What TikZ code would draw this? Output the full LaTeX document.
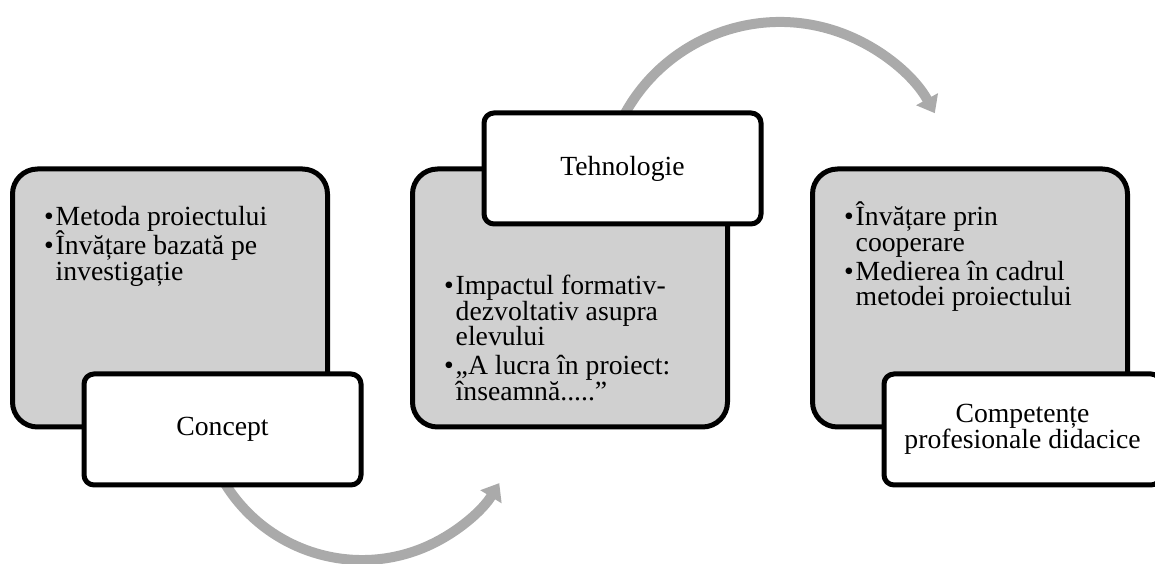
\documentclass[tikz,border=0pt]{standalone}
\usepackage{fontspec}
\setmainfont{Liberation Serif}
\usetikzlibrary{arrows.meta,calc}
\definecolor{panelgray}{RGB}{208,208,208}
\definecolor{arrowgray}{RGB}{170,170,170}
\newcommand{\itembullet}{\makebox[11.5pt][l]{•}}
\newcommand{\itemcont}{\hspace*{11.5pt}}
\tikzset{
  bigfont/.style={font=\fontsize{27.7pt}{25.5pt}\selectfont},
  panel/.style={draw=black, line width=5pt, fill=panelgray, rounded corners=25pt,
    minimum width=315pt, minimum height=258pt, inner sep=0pt},
  tab/.style={draw=black, line width=5pt, fill=white, rounded corners=10pt,
    minimum width=277pt, minimum height=111pt, align=center, bigfont},
  flow/.style={draw=arrowgray, line width=10pt, -{Triangle[length=16pt,width=24pt]}},
  bullets/.style={inner sep=0pt, anchor=base west, bigfont}
}
\begin{document}
\begin{tikzpicture}[x=1pt,y=1pt]
  \useasboundingbox (0,0) rectangle (1155,564);
  \clip (0,0) rectangle (1155,564);

  % curved gray arrows, drawn first so the boxes cover their tails
  \coordinate (hubtop) at (780,365);
  \coordinate (hubbot) at (362,165);
  \draw[flow] ($(hubbot)+(205:161)$) arc[start angle=205, end angle=328.5, radius=161];
  \draw[flow] ($(hubtop)+(160:177)$) arc[start angle=160, end angle=29, radius=177];

  % gray panels
  \node[panel] (p1) at (170,266) {};
  \node[panel] (p2) at (570,266) {};
  \node[panel] (p3) at (970,266) {};

  % bullet lists (first baselines at 338 and 269)
  \node[bullets] (l1) at (44,338) {\parbox[t]{270pt}{\lineskiplimit=-\maxdimen
    \itembullet Metoda proiectului\\[3.5pt]
    \itembullet Învățare bazată pe\\
    \itemcont investigație}};
  \node[bullets] (l2) at (444,269) {\parbox[t]{270pt}{\lineskiplimit=-\maxdimen
    \itembullet Impactul formativ-\\
    \itemcont dezvoltativ asupra\\
    \itemcont elevului\\[3.5pt]
    \itembullet „A lucra în proiect:\\
    \itemcont înseamnă.....”}};
  \node[bullets] (l3) at (844,338) {\parbox[t]{270pt}{\lineskiplimit=-\maxdimen
    \itembullet Învățare prin\\
    \itemcont cooperare\\[3.5pt]
    \itembullet Medierea în cadrul\\
    \itemcont metodei proiectului}};

  % white title tabs
  \node[tab] (t1) at (222.5,134.5) {Concept};
  \node[tab] (t2) at (622.5,395.5) {Tehnologie};
  \node[tab] (t3) at (1022.5,134.5) {Competențe\\profesionale didacice};
\end{tikzpicture}
\end{document}
